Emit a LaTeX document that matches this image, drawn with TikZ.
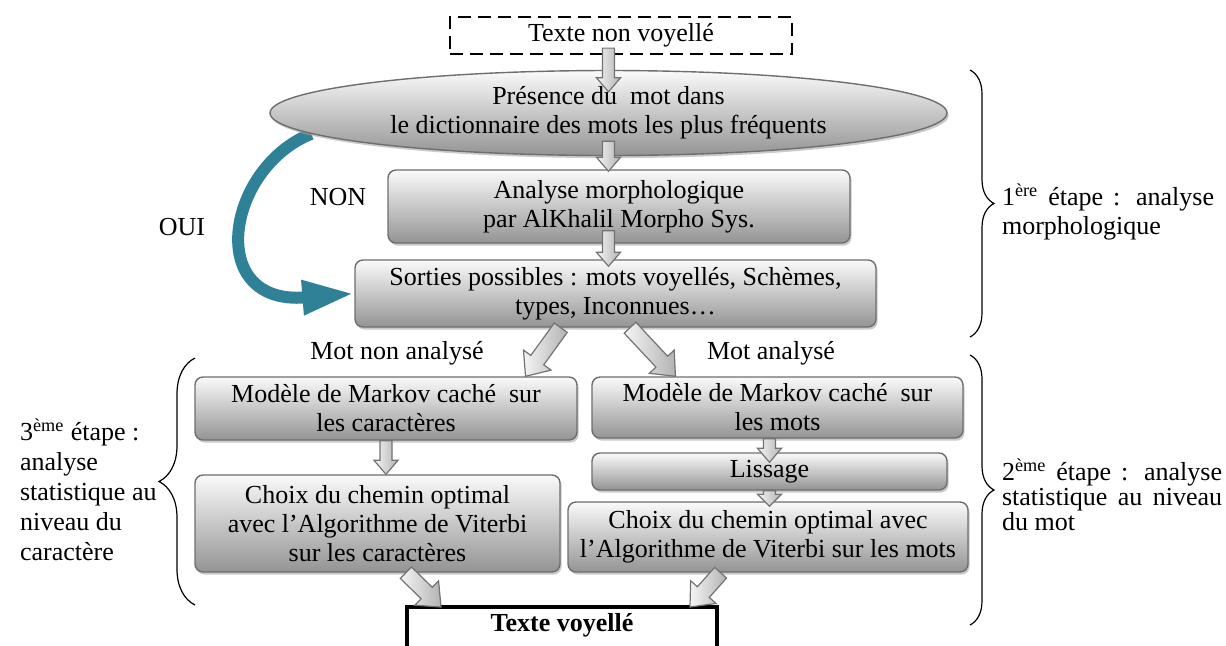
\documentclass[tikz,border=0pt]{standalone}
\usepackage{fontspec}
\setmainfont{Liberation Serif}
\usetikzlibrary{arrows.meta,positioning,shapes.geometric,calc,shadows,decorations.pathreplacing,backgrounds}
\definecolor{oui}{HTML}{2E8196}
\definecolor{frame}{HTML}{6E6E6E}

\newcommand{\tightlines}{\lineskiplimit=-8pt\relax}
\newcommand{\blockarrow}[5]{%
  \path #1 coordinate (ba-s) #2 coordinate (ba-e);
  \coordinate (ba-h) at ($(ba-e)!#5!(ba-s)$);
  \draw[garrow] ($(ba-s)!#3!90:(ba-e)$) -- ($(ba-h)!#3!90:(ba-e)$) -- ($(ba-h)!#4!90:(ba-e)$)
    -- (ba-e) -- ($(ba-h)!#4!-90:(ba-e)$) -- ($(ba-h)!#3!-90:(ba-e)$) -- ($(ba-s)!#3!-90:(ba-e)$) -- cycle;}

\begin{document}
\begin{tikzpicture}[x=0.5pt,y=-0.5pt,font=\fontsize{13}{14.5}\selectfont,
box/.style={draw=frame,line width=0.7pt,rounded corners=4pt,top color=gray!4,bottom color=black!42,
 drop shadow={shadow xshift=0.8pt,shadow yshift=-1.3pt,fill=black!35,opacity=0.6},align=center,inner sep=1pt},
oval/.style={box,ellipse,sharp corners},
src/.style={draw,line width=1.1pt,dash pattern=on 6.5pt off 3.5pt,minimum width=171pt,minimum height=18.5pt,inner sep=0pt},
outbox/.style={draw,line width=2pt,anchor=north,minimum width=155pt,text height=12pt,text depth=30pt,inner sep=0pt,
 font=\fontsize{13}{14.5}\selectfont\bfseries},
garrow/.style={draw=black!55,line width=0.6pt,left color=gray!8,right color=gray!60},
ouiarrow/.style={draw=oui,line width=6pt,-{Triangle[length=26pt,width=16pt]}},
stage/.style={draw,line width=0.6pt,decorate,decoration={brace,amplitude=#1}}]
\clip (0,0) rectangle (1226,645);
\node[src] (src) at (621,35.5) {Texte non voyellé};
\node[oval,minimum width=338.5pt,minimum height=42.5pt] (pres) at (608.5,113)
 {Présence du\ \ mot dans\\le dictionnaire des mots les plus fréquents};
\node[box,minimum width=231pt,minimum height=36.5pt] (morph) at (619,206.5)
 {Analyse morphologique\\par AlKhalil Morpho Sys.};
\node[box,minimum width=260.5pt,minimum height=33.5pt] (sort) at (615.5,293.5)
 {Sorties possibles : mots voyellés, Schèmes,\\types, Inconnues…};
\node[box,minimum width=191pt,minimum height=31.5pt] (hmmc) at (386,408.5)
 {Modèle de Markov caché\ \ sur\\les caractères};
\node[box,minimum width=182.5pt,minimum height=48.5pt] (vitc) at (377.5,523.5)
 {Choix du chemin optimal\\avec l’Algorithme de Viterbi\\sur les caractères};
\node[box,minimum width=185.5pt,minimum height=30.5pt] (hmmm) at (777.5,407.5)
 {Modèle de Markov caché\ \ sur\\les mots};
\node[box,minimum width=177.5pt,minimum height=18.5pt] (liss) at (769.5,471.5) {Lissage};
\node[box,minimum width=200pt,minimum height=35pt] (vitm) at (768,537)
 {Choix du chemin optimal avec\\l’Algorithme de Viterbi sur les mots};
\node[outbox] (out) at (562,605) {Texte voyellé};
\node (oui) at (182,227) {OUI};
\node (non) at (338,197) {NON};
\node (mna) at (397,353) {Mot non analysé};
\node (ma) at (771,353) {Mot analysé};
\begin{scope}[on background layer]
\draw[ouiarrow] (pres.184) .. controls +(-85,34) and +(-150,12) .. (sort.west);
\end{scope}
\blockarrow{($(src.south -| pres.north)+(0pt,3.5pt)$)}{($(pres.north)+(0pt,-11pt)$)}{3pt}{6pt}{7pt}
\blockarrow{($(pres.south)+(0pt,7.5pt)$)}{($(pres.south |- morph.north)+(0pt,-1pt)$)}{3pt}{6pt}{7pt}
\blockarrow{($(morph.south -| pres.south)+(0pt,6.5pt)$)}{($(sort.north -| pres.south)+(0pt,-3.5pt)$)}{3pt}{6pt}{7pt}
\blockarrow{(sort.212)}{(hmmc.13)}{4pt}{8.5pt}{10pt}
\blockarrow{(sort.293)}{(hmmm.163)}{4pt}{8.5pt}{10pt}
\blockarrow{(hmmc.south)}{(hmmc.south |- vitc.north)}{3pt}{6pt}{7pt}
\blockarrow{(liss.north |- hmmm.south)}{($(liss.north)+(0pt,-5pt)$)}{3pt}{6pt}{7pt}
\blockarrow{(liss.south)}{($(liss.south |- vitm.north)+(0pt,-2.5pt)$)}{3pt}{6pt}{6pt}
\blockarrow{(vitc.300)}{($(out.north west)+(18pt,-1pt)$)}{4pt}{8.5pt}{10pt}
\blockarrow{(vitm.217)}{($(out.north east)+(-14.5pt,-1pt)$)}{4pt}{8.5pt}{10pt}
\draw[stage=12pt] (970,70) -- (970,337);
\draw[stage=12pt] (970,355) -- (970,625);
\draw[stage=18pt] (195,605) -- (195,358);
\node[anchor=west,align=left] (st1) at (995,212)
 {\makebox[106pt][s]{1\textsuperscript{ère} étape : analyse}\\morphologique};
\node[anchor=west,align=left,font=\fontsize{13}{12.5}\selectfont\tightlines] (st2) at (995,495)
 {\makebox[110pt][s]{2\textsuperscript{ème} étape : analyse}\\\makebox[110pt][s]{statistique au niveau}\\du mot};
\node[anchor=west,align=left,font=\fontsize{13}{15}\selectfont] (st3) at (13,490)
 {3\textsuperscript{ème} étape :\\analyse\\statistique au\\niveau du\\caractère};
\end{tikzpicture}
\end{document}
